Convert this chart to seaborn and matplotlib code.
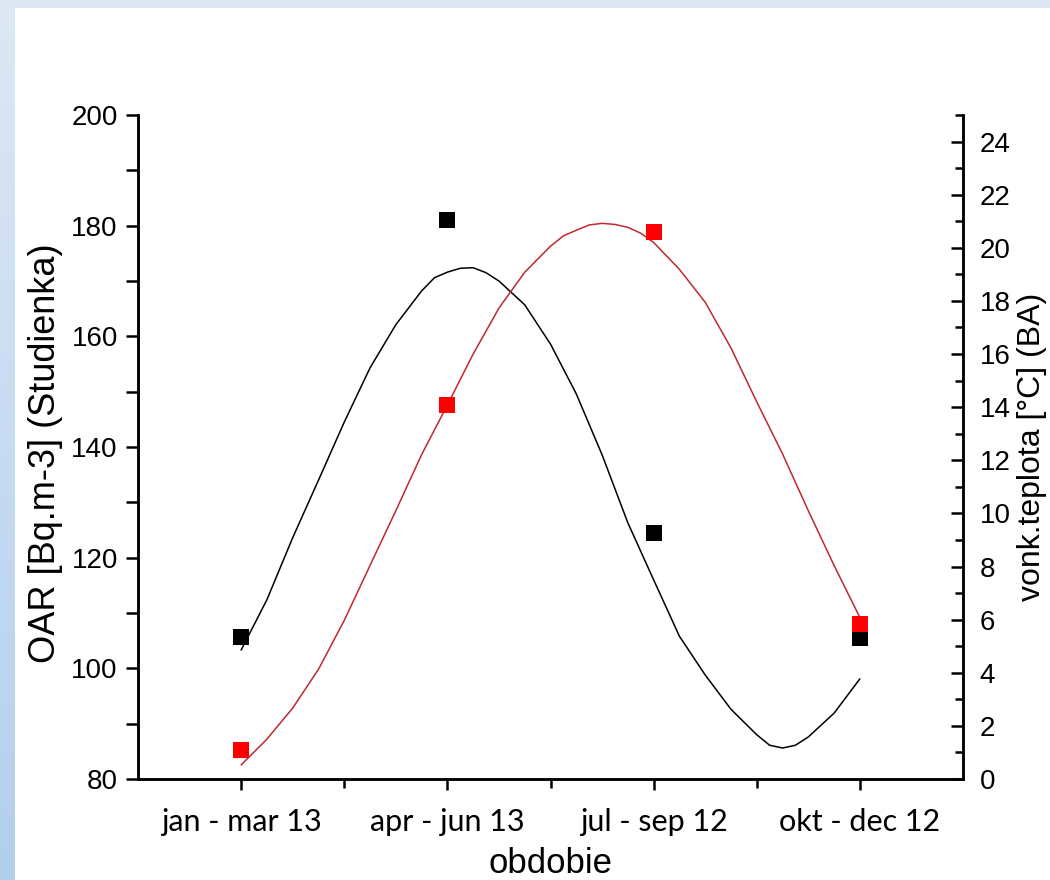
import numpy as np
import pandas as pd
import matplotlib
matplotlib.use("Agg")
import matplotlib.pyplot as plt
from matplotlib.patches import Rectangle
from matplotlib.ticker import MultipleLocator, FixedLocator
import seaborn as sns

# measured points
categories = ["jan - mar 13", "apr - jun 13", "jul - sep 12", "okt - dec 12"]
cat_pos = [0, 1, 2, 3]
oar = [105.7, 181.0, 124.5, 105.5]
temp = [1.1, 14.1, 20.6, 5.85]

# fitted sine curves
oar_fit_x = [0, 0.125, 0.25, 0.375, 0.5, 0.625, 0.75, 0.875, 0.9375, 1.0, 1.0625, 1.125,
             1.1875, 1.25, 1.375, 1.5, 1.625, 1.75, 1.875, 2.0, 2.125, 2.25, 2.375, 2.5,
             2.5625, 2.625, 2.6875, 2.75, 2.875, 3.0]
oar_fit = [103.3, 112.4, 123.6, 134.0, 144.5, 154.3, 162.1, 168.2, 170.6, 171.6, 172.3, 172.4,
           171.5, 170.0, 165.7, 158.6, 149.6, 138.6, 126.3, 116.0, 105.8, 98.8, 92.6, 88.0,
           86.1, 85.6, 86.1, 87.6, 91.9, 98.1]
temp_fit_x = [0, 0.125, 0.25, 0.375, 0.5, 0.625, 0.75, 0.875, 1.0, 1.125, 1.25, 1.375,
              1.5, 1.5625, 1.625, 1.6875, 1.75, 1.8125, 1.875, 1.9375, 2.0, 2.125, 2.25,
              2.375, 2.5, 2.625, 2.75, 2.875, 3.0]
temp_fit = [0.53, 1.50, 2.67, 4.13, 5.97, 8.04, 10.10, 12.21, 14.08, 16.00, 17.73, 19.08,
            20.06, 20.45, 20.66, 20.86, 20.92, 20.88, 20.77, 20.55, 20.20, 19.19, 17.95,
            16.23, 14.20, 12.24, 10.10, 8.04, 6.08]

pts = pd.DataFrame({"x": cat_pos, "oar": oar, "temp": temp})
oar_df = pd.DataFrame({"x": oar_fit_x, "y": oar_fit})
temp_df = pd.DataFrame({"x": temp_fit_x, "y": temp_fit})

sns.set_style("ticks")
plt.rcParams["font.family"] = ["Liberation Sans", "DejaVu Sans"]
plt.rcParams["text.color"] = "black"
plt.rcParams["axes.labelcolor"] = "black"
plt.rcParams["xtick.color"] = "black"
plt.rcParams["ytick.color"] = "black"

fig = plt.figure(figsize=(10.5, 8.8), dpi=100)
fig.patch.set_facecolor("white")

# slide background strips
bg = fig.add_axes([0, 0, 15 / 1050, 1])
grad = np.linspace(0, 1, 256).reshape(-1, 1)
bg.imshow(grad, aspect="auto", cmap=matplotlib.colors.LinearSegmentedColormap.from_list(
    "bgc", ["#b3cfee", "#dce8f5"]), origin="lower", extent=[0, 1, 0, 1])
bg.axis("off")
fig.add_artist(Rectangle((0, 1 - 8 / 880), 1, 8 / 880, transform=fig.transFigure,
                         facecolor="#dce7f3", edgecolor="none"))

ax = fig.add_axes([138 / 1050, 101 / 880, 825 / 1050, 664 / 880])
ax2 = ax.twinx()

sns.lineplot(data=oar_df, x="x", y="y", ax=ax, color="black", lw=1.1,
             estimator=None, sort=False, zorder=2)
sns.scatterplot(data=pts, x="x", y="oar", ax=ax, color="black", marker="s",
                s=140, linewidth=0, zorder=3)
sns.lineplot(data=temp_df, x="x", y="y", ax=ax2, color="#c0282d", lw=1.1,
             estimator=None, sort=False, zorder=2)
sns.scatterplot(data=pts, x="x", y="temp", ax=ax2, color="#ff0000", marker="s",
                s=140, linewidth=0, zorder=3)

ax.set_xlim(-0.5, 3.5)
ax.set_ylim(80, 200)
ax2.set_ylim(0, 25)

ax.xaxis.set_major_locator(FixedLocator(cat_pos))
ax.xaxis.set_minor_locator(FixedLocator([0.5, 1.5, 2.5]))
ax.set_xticklabels(categories, fontsize=22, family=["Lato", "DejaVu Sans"])
ax.yaxis.set_major_locator(MultipleLocator(20))
ax.yaxis.set_minor_locator(MultipleLocator(10))
ax2.yaxis.set_major_locator(FixedLocator(list(range(0, 25, 2))))
ax2.yaxis.set_minor_locator(MultipleLocator(1))

for a in (ax, ax2):
    for s in a.spines.values():
        s.set_linewidth(1.8)
        s.set_color("black")
    a.spines["top"].set_visible(False)

ax.tick_params(axis="x", which="major", direction="out", length=8, width=1.8, pad=13)
ax.tick_params(axis="x", which="minor", direction="out", length=6.5, width=1.8)
ax.tick_params(axis="y", which="both", direction="out", length=8.5, width=1.8,
               labelsize=20, pad=6)
ax2.tick_params(axis="y", which="major", direction="in", length=9, width=1.8,
                labelsize=20, pad=12)
ax2.tick_params(axis="y", which="minor", direction="in", length=5.5, width=1.8)

ax.set_xlabel("obdobie", fontsize=25, labelpad=8)
ax.set_ylabel("OAR [Bq.m-3] (Studienka)", fontsize=26)
ax.yaxis.set_label_coords(-0.091, 0.49)
ax2.set_ylabel("vonk.teplota [°C] (BA)", fontsize=23)
ax2.yaxis.set_label_coords(1.066, 0.5)

fig.savefig("out.png", dpi=100)
